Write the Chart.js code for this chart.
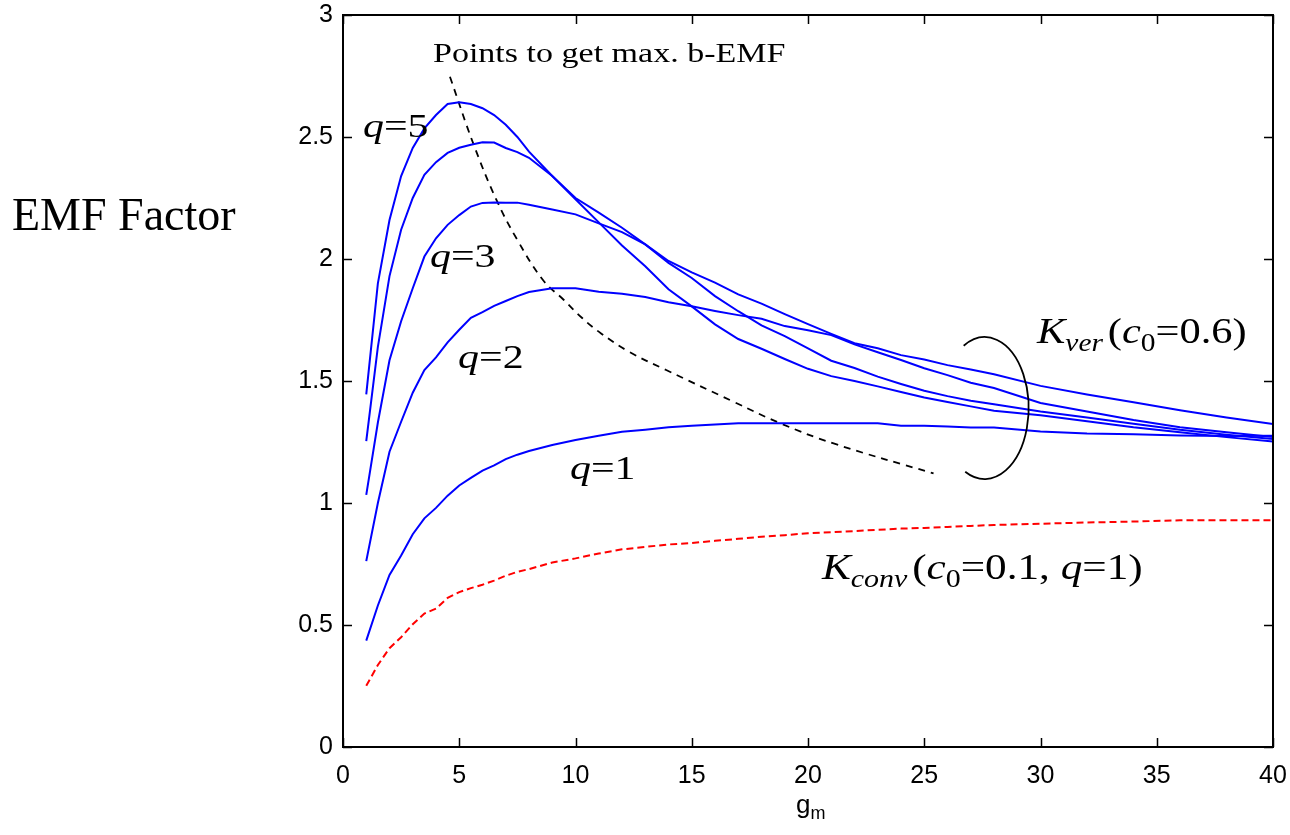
<!DOCTYPE html>
<html>
<head>
<meta charset="utf-8">
<script src="https://cdn.jsdelivr.net/npm/chart.js@4.4.1/dist/chart.umd.min.js"></script>
<style>
  html, body { margin: 0; padding: 0; background: #fff; }
  #chart { display: block; }
</style>
</head>
<body>
<canvas id="chart" width="1290" height="835"></canvas>
<script>
// g_m sample points shared by all curves
const gm = [1, 1.5, 2, 2.5, 3, 3.5, 4, 4.5, 5, 5.5, 6, 6.5, 7, 7.5, 8, 9, 10, 11, 12, 13, 14, 15,
            16, 17, 18, 19, 20, 21, 22, 23, 24, 25, 26, 27, 28, 30, 32, 34, 36, 38, 40];

const kverQ1 = [0.436, 0.58, 0.705, 0.785, 0.872, 0.937, 0.98, 1.03, 1.072, 1.103, 1.133, 1.154, 1.18, 1.198, 1.213,
                1.238, 1.258, 1.276, 1.292, 1.30, 1.31, 1.317, 1.322, 1.327, 1.327, 1.327, 1.327, 1.327, 1.327, 1.327,
                1.317, 1.317, 1.314, 1.309, 1.309, 1.293, 1.285, 1.282, 1.277, 1.275, 1.276];
const kverQ2 = [0.762, 1.0, 1.21, 1.333, 1.452, 1.545, 1.597, 1.658, 1.71, 1.759, 1.782, 1.808, 1.828, 1.848, 1.865,
                1.88, 1.88, 1.866, 1.858, 1.844, 1.823, 1.806, 1.787, 1.77, 1.755, 1.725, 1.708, 1.688, 1.65, 1.618,
                1.586, 1.552, 1.524, 1.493, 1.471, 1.41, 1.375, 1.34, 1.31, 1.29, 1.27];
const kverQ3 = [1.033, 1.33, 1.585, 1.745, 1.88, 2.01, 2.085, 2.14, 2.18, 2.215, 2.23, 2.232, 2.231, 2.231, 2.222,
                2.203, 2.183, 2.146, 2.11, 2.06, 1.984, 1.922, 1.848, 1.786, 1.728, 1.684, 1.634, 1.583, 1.553, 1.518,
                1.488, 1.46, 1.438, 1.419, 1.405, 1.375, 1.35, 1.325, 1.30, 1.28, 1.262];
const kverQ4 = [1.254, 1.64, 1.93, 2.12, 2.25, 2.345, 2.397, 2.435, 2.456, 2.468, 2.478, 2.477, 2.455, 2.438, 2.415,
                2.34, 2.25, 2.19, 2.128, 2.06, 1.992, 1.945, 1.903, 1.855, 1.817, 1.774, 1.733, 1.693, 1.655, 1.634,
                1.606, 1.588, 1.565, 1.547, 1.528, 1.48, 1.445, 1.413, 1.38, 1.35, 1.324];
const kverQ5 = [1.445, 1.90, 2.16, 2.34, 2.455, 2.535, 2.59, 2.635, 2.642, 2.635, 2.618, 2.59, 2.55, 2.50, 2.44,
                2.34, 2.245, 2.15, 2.055, 1.97, 1.876, 1.806, 1.732, 1.672, 1.632, 1.59, 1.55, 1.52, 1.50, 1.478,
                1.455, 1.432, 1.414, 1.396, 1.378, 1.36, 1.335, 1.31, 1.29, 1.27, 1.252];
const kconv = [0.251, 0.336, 0.405, 0.45, 0.503, 0.547, 0.567, 0.611, 0.635, 0.651, 0.665, 0.682, 0.702, 0.718, 0.729,
               0.756, 0.773, 0.793, 0.81, 0.82, 0.83, 0.836, 0.845, 0.853, 0.862, 0.868, 0.876, 0.88, 0.885, 0.89,
               0.895, 0.898, 0.902, 0.906, 0.91, 0.915, 0.92, 0.924, 0.929, 0.929, 0.929];

// locus of the maxima (dashed black)
const peakX = [4.6, 5.6, 6.6, 7.5, 8.6, 9.5, 10.3, 11.1, 12.3, 13.9, 16.8, 18.8, 21.1, 25.4];
const peakY = [2.747, 2.474, 2.242, 2.078, 1.914, 1.832, 1.757, 1.695, 1.62, 1.545, 1.415, 1.327, 1.244, 1.121];

const xTicks = [0, 5, 10, 15, 20, 25, 30, 35, 40];
const yTicks = [0, 0.5, 1, 1.5, 2, 2.5, 3];
const xTickLabels = ['0', '5', '10', '15', '20', '25', '30', '35', '40'];
const yTickLabels = ['0', '0.5', '1', '1.5', '2', '2.5', '3'];

function pts(xs, ys) {
    return xs.map((x, i) => ({ x: x, y: ys[i] }));
}

const serif = '"Liberation Serif", "Times New Roman", serif';
const sans = '"Liberation Sans", Arial, sans-serif';

// draw a run of text pieces, each with own style / size / baseline shift,
// stretched horizontally by sx like the exported figure
function richText(ctx, x, y, sx, parts) {
    ctx.save();
    ctx.translate(x, y);
    ctx.scale(sx, 1);
    let cx = 0;
    parts.forEach(p => {
        ctx.font = (p.i ? 'italic ' : '') + p.s + 'px ' + (p.f || serif);
        ctx.fillText(p.t, cx, p.dy || 0);
        cx += ctx.measureText(p.t).width + (p.gap || 0);
    });
    ctx.restore();
}

const decor = {
    id: 'decor',
    afterDraw(chart) {
        const ctx = chart.ctx;
        const a = chart.chartArea;
        const xs = chart.scales.x, ys = chart.scales.y;
        ctx.save();
        ctx.strokeStyle = '#000';
        ctx.fillStyle = '#000';
        ctx.lineWidth = 2;
        ctx.strokeRect(a.left, a.top, a.right - a.left, a.bottom - a.top);

        // inward ticks on all four sides
        ctx.lineWidth = 1.5;
        ctx.beginPath();
        xTicks.forEach(v => {
            const px = Math.round(xs.getPixelForValue(v)) + 0.5;
            ctx.moveTo(px, a.bottom); ctx.lineTo(px, a.bottom - 9);
            ctx.moveTo(px, a.top); ctx.lineTo(px, a.top + 9);
        });
        yTicks.forEach(v => {
            const py = Math.round(ys.getPixelForValue(v)) + 0.5;
            ctx.moveTo(a.left, py); ctx.lineTo(a.left + 9, py);
            ctx.moveTo(a.right, py); ctx.lineTo(a.right - 9, py);
        });
        ctx.stroke();

        // bracket around the K_ver curves
        ctx.lineWidth = 1.8;
        ctx.beginPath();
        const ex = xs.getPixelForValue(27.6), ey = ys.getPixelForValue(1.389);
        const rx = xs.getPixelForValue(27.6 + 1.89) - ex;
        const ry = ey - ys.getPixelForValue(1.389 + 0.291);
        ctx.ellipse(ex, ey, rx, ry, 0, -2.07, 2.03);
        ctx.stroke();

        ctx.textBaseline = 'alphabetic';
        ctx.textAlign = 'left';
        const X = v => xs.getPixelForValue(v), Y = v => ys.getPixelForValue(v);

        richText(ctx, X(3.87), Y(2.806), 1.26, [{ t: 'Points to get max. b-EMF', s: 27 }]);
        const qLab = n => [{ t: 'q', s: 33, i: true }, { t: '=' + n, s: 33 }];
        richText(ctx, X(0.86), Y(2.5), 1.27, qLab(5));
        richText(ctx, X(3.74), Y(1.967), 1.27, qLab(3));
        richText(ctx, X(4.95), Y(1.553), 1.27, qLab(2));
        richText(ctx, X(9.76), Y(1.098), 1.27, qLab(1));
        richText(ctx, X(29.85), Y(1.656), 1.18, [
            { t: 'K', s: 36, i: true }, { t: 'ver', s: 25, i: true, dy: 8, gap: 4 },
            { t: '(', s: 36 }, { t: 'c', s: 36, i: true }, { t: '0', s: 25, dy: 8 }, { t: '=0.6)', s: 36 }
        ]);
        richText(ctx, X(20.6), Y(0.689), 1.2, [
            { t: 'K', s: 36, i: true }, { t: 'conv', s: 25, i: true, dy: 8, gap: 4 },
            { t: '(', s: 36 }, { t: 'c', s: 36, i: true }, { t: '0', s: 25, dy: 8 }, { t: '=0.1, ', s: 36 },
            { t: 'q', s: 36, i: true }, { t: '=1)', s: 36 }
        ]);

        // axis titles
        richText(ctx, 12, 230, 1.0, [{ t: 'EMF Factor', s: 46 }]);
        richText(ctx, X(20) - 12, 813, 1.0, [{ t: 'g', s: 26, f: sans }, { t: 'm', s: 18, f: sans, dy: 6 }]);
        ctx.restore();
    }
};

const blue = '#0000ff';
const blueSet = (label, data) => ({
    label: label,
    data: pts(gm, data),
    borderColor: blue,
    borderWidth: 2,
    pointRadius: 0,
    showLine: true,
    tension: 0,
    fill: false
});

new Chart(document.getElementById('chart').getContext('2d'), {
    type: 'scatter',
    data: {
        datasets: [
            blueSet('q=1', kverQ1),
            blueSet('q=2', kverQ2),
            blueSet('q=3', kverQ3),
            blueSet('q=4', kverQ4),
            blueSet('q=5', kverQ5),
            {
                label: 'Kconv',
                data: pts(gm, kconv),
                borderColor: '#ff0000',
                borderWidth: 2,
                borderDash: [7, 4],
                pointRadius: 0,
                showLine: true,
                tension: 0
            },
            {
                label: 'max points',
                data: pts(peakX, peakY),
                borderColor: '#000',
                borderWidth: 1.8,
                borderDash: [7, 6],
                pointRadius: 0,
                showLine: true,
                tension: 0.4
            }
        ]
    },
    options: {
        responsive: false,
        devicePixelRatio: 1,
        animation: false,
        layout: { padding: { left: 0, right: 17, top: 15, bottom: 0 } },
        plugins: { legend: { display: false }, tooltip: { enabled: false } },
        scales: {
            x: {
                type: 'linear', min: 0, max: 40,
                afterFit: s => { s.height = 88; s.paddingLeft = 0; s.paddingRight = 0; },
                afterBuildTicks: s => { s.ticks = xTicks.map(v => ({ value: v })); },
                grid: { display: false, drawTicks: false, tickLength: 0 },
                border: { display: false },
                ticks: {
                    color: '#000', padding: 14, maxRotation: 0,
                    font: { family: sans, size: 25 },
                    callback: (v) => xTickLabels[xTicks.indexOf(v)]
                }
            },
            y: {
                type: 'linear', min: 0, max: 3,
                afterFit: s => { s.width = 343; s.paddingTop = 0; s.paddingBottom = 0; },
                afterBuildTicks: s => { s.ticks = yTicks.map(v => ({ value: v })); },
                grid: { display: false, drawTicks: false, tickLength: 0 },
                border: { display: false },
                ticks: {
                    color: '#000', padding: 10,
                    font: { family: sans, size: 25 },
                    callback: (v) => yTickLabels[yTicks.indexOf(v)]
                }
            }
        }
    },
    plugins: [decor]
});
</script>
</body>
</html>
